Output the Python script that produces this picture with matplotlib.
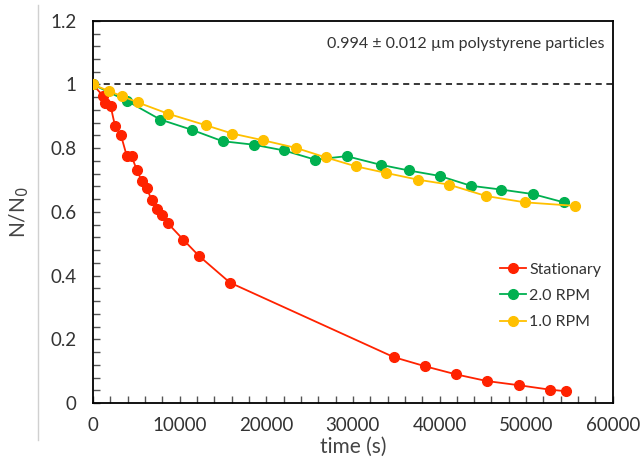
import numpy as np
import matplotlib
matplotlib.use("Agg")
import matplotlib.pyplot as plt
from matplotlib.ticker import MultipleLocator, FuncFormatter
from matplotlib.lines import Line2D

plt.rcParams['font.family'] = ['Lato', 'DejaVu Sans']

# Stationary
t_stat = [0, 1190, 1385, 2040, 2540, 3230, 3890, 4460, 5040, 5620, 6190, 6770,
          7420, 8000, 8620, 10420, 12230, 15810, 34730, 38380, 41890, 45460,
          49120, 52730, 54580]
n_stat = [1.0, 0.963, 0.942, 0.932, 0.871, 0.841, 0.777, 0.775, 0.733, 0.698,
          0.675, 0.638, 0.610, 0.589, 0.565, 0.513, 0.462, 0.378, 0.144, 0.115,
          0.090, 0.069, 0.056, 0.042, 0.037]

# 2.0 RPM
t_rpm2 = [0, 3960, 7770, 11380, 14960, 18540, 22040, 25650, 29270, 33190,
          36460, 40000, 43620, 47150, 50770, 54350]
n_rpm2 = [1.0, 0.948, 0.890, 0.858, 0.822, 0.811, 0.793, 0.764, 0.775, 0.748,
          0.730, 0.713, 0.682, 0.670, 0.656, 0.630]

# 1.0 RPM
t_rpm1 = [0, 1880, 3390, 5150, 8690, 13040, 16080, 19620, 23420, 26880, 30350,
          33880, 37540, 41040, 45350, 49850, 55620]
n_rpm1 = [1.0, 0.979, 0.963, 0.944, 0.908, 0.872, 0.846, 0.825, 0.801, 0.771,
          0.743, 0.722, 0.701, 0.686, 0.650, 0.630, 0.619]

fig = plt.figure(figsize=(6.41, 4.65), dpi=100)
ax = fig.add_axes([0.145, 0.1333, 0.811, 0.822])

ax.axhline(1.0, color='black', linestyle=(0, (4, 3)), linewidth=1.1, zorder=1)

ax.plot(t_stat, n_stat, '-o', color='#FF2200', markersize=7, linewidth=1.3,
        label='Stationary', zorder=3)
ax.plot(t_rpm2, n_rpm2, '-o', color='#00B050', markersize=7, linewidth=1.3,
        label='2.0 RPM', zorder=3)
ax.plot(t_rpm1, n_rpm1, '-o', color='#FFC000', markersize=7, linewidth=1.3,
        label='1.0 RPM', zorder=4)

ax.set_xlim(0, 60000)
ax.set_ylim(0, 1.2)
ax.xaxis.set_major_locator(MultipleLocator(10000))
ax.xaxis.set_minor_locator(MultipleLocator(2000))
ax.yaxis.set_major_locator(MultipleLocator(0.2))
ax.yaxis.set_minor_locator(MultipleLocator(0.04))
ax.yaxis.set_major_formatter(FuncFormatter(lambda v, p: '%g' % round(v, 2)))
ax.tick_params(which='both', direction='in', colors='#555555', labelcolor='#333333',
               labelsize=13.5, width=1.0, length=5)
ax.tick_params(axis='x', pad=10)
ax.tick_params(axis='y', pad=12)
for s in ax.spines.values():
    s.set_linewidth(1.3)
    s.set_color('black')

ax.set_xlabel('time (s)', fontsize=15, color='#444444', labelpad=2)
ax.set_ylabel('N/N$_0$', fontsize=15, color='#444444', labelpad=14)

ax.text(0.985, 0.94, '0.994 ± 0.012 µm polystyrene particles', transform=ax.transAxes,
        ha='right', va='center', fontsize=11.5, color='#333333')

leg = ax.legend(loc='center right', bbox_to_anchor=(0.99, 0.28), frameon=False,
                fontsize=11.5, handlelength=1.6, handletextpad=0.2, labelspacing=0.75,
                borderaxespad=0)
for t in leg.get_texts():
    t.set_color('#333333')

fig.add_artist(Line2D([38 / 641, 38 / 641], [1 - 5 / 465, 1 - 440 / 465],
                      color='#d0d0d0', linewidth=1, transform=fig.transFigure))

fig.savefig('out.png', dpi=100)
